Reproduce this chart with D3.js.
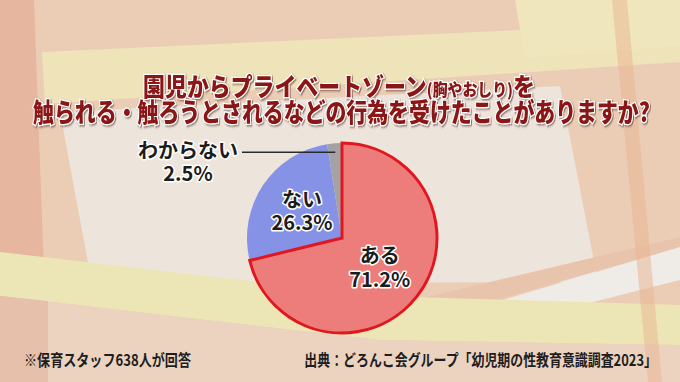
<!DOCTYPE html>
<html lang="ja">
<head>
<meta charset="UTF-8">
<title>プライベートゾーン調査</title>
<script src="https://cdn.jsdelivr.net/npm/d3@7"></script>
<style>
  body { margin: 0; }
  svg { display: block; }
  text { font-family: "Noto Sans CJK JP", sans-serif; }
</style>
</head>
<body>
<div id="chart"></div>
<script>
// data
const categories = ["ある", "ない", "わからない"];
const values = [71.2, 26.3, 2.5];
const titleLine1 = ["園児からプライベートゾーン", "(胸やおしり)", "を"];
const titleLine2 = "触られる・触ろうとされるなどの行為を受けたことがありますか?";
const note = "※保育スタッフ638人が回答";
const source = "出典：どろんこ会グループ「幼児期の性教育意識調査2023」";

const colors = ["#ec7d7b", "#8592e6", "#a3a3a3"];

const w = 680, h = 382;
const cx = 342, cy = 238, r = 95;

const svg = d3.select("#chart").append("svg")
  .attr("width", w)
  .attr("height", h);

// background shapes
const bg = svg.append("g");
bg.append("rect").attr("width", w).attr("height", h).attr("fill", "#ebcdb6");
const shapes = [
  {pts: [[0,0],[34,0],[48,382],[0,382]], fill: "#e6b69e"},
  {pts: [[42,52],[520,30],[680,26],[680,62],[45,104]], fill: "#eee3b9"},
  {pts: [[515,0],[680,0],[680,46],[525,58]], fill: "#efe6bd"},
  {pts: [[60,112],[560,86],[598,282],[92,284]], fill: "#ede4dc"},
  {pts: [[330,320],[680,237],[680,247],[330,348]], fill: "#e9c4ad"},
  {pts: [[470,310],[680,247],[680,280],[530,318]], fill: "#efebe7"},
  {pts: [[0,252],[380,296],[680,305],[680,345],[380,340],[0,296]], fill: "#ece6b6"},
  {pts: [[0,296],[380,340],[680,345],[680,382],[0,382]], fill: "#ebd3c0"},
  {pts: [[0,296],[48,301],[48,382],[0,382]], fill: "#e6c0aa"},
  {pts: [[612,0],[627,0],[662,382],[648,382]], fill: "#e9b38f", op: 0.5}
];
bg.selectAll("polygon").data(shapes).enter().append("polygon")
  .attr("points", d => d.pts.join(" "))
  .attr("fill", d => d.fill)
  .attr("opacity", d => d.op || 1);

// shrink text horizontally to a target width
function fit(sel, x, y, target) {
  const len = sel.node().getComputedTextLength();
  sel.attr("transform", `translate(${x},${y}) scale(${target / len},1)`);
}

// title
const shadow = svg.append("defs").append("filter").attr("id", "sh")
  .attr("x", "-5%").attr("y", "-20%").attr("width", "110%").attr("height", "140%");
shadow.append("feDropShadow").attr("dx", 1.2).attr("dy", 1.2)
  .attr("stdDeviation", 0.8).attr("flood-color", "#3a1a10").attr("flood-opacity", 0.6);

const t1 = svg.append("text")
  .attr("text-anchor", "middle")
  .attr("font-size", 25).attr("font-weight", 900)
  .attr("fill", "#8a1212").attr("stroke", "#fff").attr("stroke-width", 2.5)
  .attr("paint-order", "stroke").attr("filter", "url(#sh)");
t1.selectAll("tspan").data(titleLine1).enter().append("tspan")
  .attr("font-size", (d, i) => i === 1 ? 17 : 25)
  .text(d => d);
fit(t1, 339, 96, 392);

const t2 = svg.append("text")
  .attr("text-anchor", "middle")
  .attr("font-size", 26).attr("font-weight", 900)
  .attr("fill", "#8a1212").attr("stroke", "#fff").attr("stroke-width", 2.5)
  .attr("paint-order", "stroke").attr("filter", "url(#sh)")
  .text(titleLine2);
fit(t2, 341.5, 122, 617);

// pie
const data = categories.map((c, i) => ({name: c, value: values[i]}));
const pie = d3.pie().value(d => d.value).sort(null);
const arcs = pie(data);
const arc = d3.arc().innerRadius(0).outerRadius(r);
const labelArc = d3.arc().innerRadius(48).outerRadius(48);
const edgeArc = d3.arc().innerRadius(86).outerRadius(86);

const g = svg.append("g").attr("transform", `translate(${cx},${cy})`);
g.selectAll("path").data(arcs).enter().append("path")
  .attr("d", arc)
  .attr("fill", (d, i) => colors[i]);
// red outline for the main slice drawn on top
g.append("path").datum(arcs[0])
  .attr("d", arc)
  .attr("fill", "none")
  .attr("stroke", "#e2161f")
  .attr("stroke-width", 3)
  .attr("stroke-linejoin", "miter");

const fmt = v => v.toFixed(1) + "%";
function label(parent, x, y, d) {
  const t = parent.append("text")
    .attr("text-anchor", "middle")
    .attr("font-size", 20).attr("font-weight", 700)
    .attr("fill", "#1c1c1c").attr("stroke", "#fff").attr("stroke-width", 3)
    .attr("paint-order", "stroke").attr("stroke-linejoin", "round");
  t.append("tspan").attr("x", x).attr("y", y - 4.5).text(d.data.name);
  t.append("tspan").attr("x", x).attr("y", y + 19).text(fmt(d.data.value));
}

arcs.slice(0, 2).forEach(d => {
  const [x, y] = labelArc.centroid(d);
  label(g, x, y, d);
});

// small slice with leader line
const small = arcs[2];
const [ex, ey] = edgeArc.centroid(small);
const lineEnd = -100;
g.append("line")
  .attr("x1", ex).attr("y1", ey)
  .attr("x2", lineEnd).attr("y2", ey)
  .attr("stroke", "#2a2a2a").attr("stroke-width", 1.5);
label(g, lineEnd - 54, ey + 10, small);

// footer
const n = svg.append("text")
  .attr("font-size", 16).attr("font-weight", 700)
  .attr("fill", "#1e1e1e")
  .text(note);
fit(n, 24, 366, 167);

const s = svg.append("text")
  .attr("text-anchor", "end")
  .attr("font-size", 16).attr("font-weight", 700)
  .attr("fill", "#1e1e1e")
  .text(source);
fit(s, 657, 366, 353);
</script>
</body>
</html>
